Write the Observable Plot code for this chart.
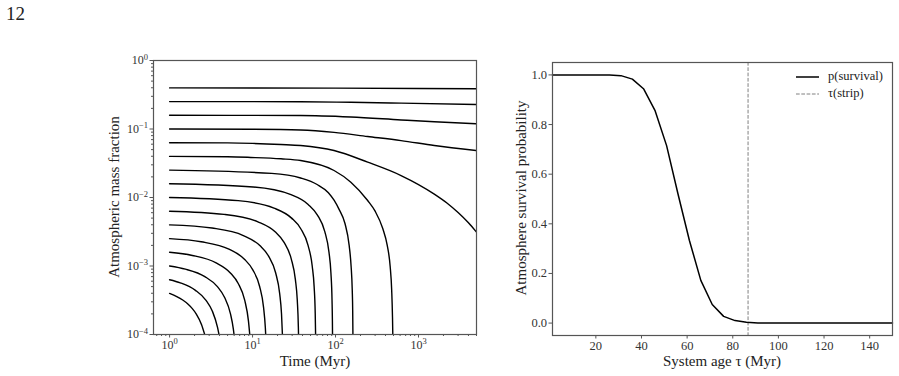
<!DOCTYPE html>
<html>
<head>
<meta charset="utf-8">
<script src="https://cdn.jsdelivr.net/npm/d3@7"></script>
<script src="https://cdn.jsdelivr.net/npm/@observablehq/plot@0.6"></script>
<style>
  body { margin: 0; background: #fff; }
  #root { position: relative; width: 899px; height: 376px; font-family: "Liberation Serif", serif; color: #222; overflow: hidden; }
  .lbl { position: absolute; white-space: nowrap; font-size: 15px; color: #222; }
  .abs { position: absolute; left: 0; top: 0; }
</style>
</head>
<body>
<div id="root">
  <div class="lbl" style="left:6px;top:3px;font-size:19px;">12</div>
  <div id="left" class="abs"></div>
  <div id="right" class="abs" style="left:480px;"></div>
  <div class="lbl" style="left:315px;top:361px;transform:translate(-50%,-50%);">Time (Myr)</div>
  <div class="lbl" style="left:114px;top:197px;transform:translate(-50%,-50%) rotate(-90deg);">Atmospheric mass fraction</div>
  <div class="lbl" style="left:722px;top:361px;transform:translate(-50%,-50%);">System age τ (Myr)</div>
  <div class="lbl" style="left:521px;top:198px;transform:translate(-50%,-50%) rotate(-90deg);">Atmosphere survival probability</div>
  <div id="legend" style="position:absolute;left:796px;top:68px;font-size:12.5px;color:#222;line-height:17px;">
    <div style="display:flex;align-items:center;"><svg width="24" height="17"><line x1="0" x2="23" y1="9" y2="9" stroke="black" stroke-width="1.5"/></svg><span style="margin-left:8px;">p(survival)</span></div>
    <div style="display:flex;align-items:center;"><svg width="24" height="17"><line x1="0" x2="23" y1="9" y2="9" stroke="#808080" stroke-width="1" stroke-dasharray="3.7,1.6"/></svg><span style="margin-left:8px;">τ(strip)</span></div>
  </div>
</div>
<script>
// ---- Left panel: atmospheric mass fraction tracks, [time (Myr), log10 mass fraction]
const c01 = [[1,-0.4],[100,-0.403],[1000,-0.408],[5000,-0.413]];
const c02 = [[1,-0.6],[38,-0.602],[153,-0.61],[616,-0.622],[5000,-0.642]];
const c03 = [[1,-0.8],[38,-0.803],[153,-0.825],[616,-0.868],[1550,-0.895],[5000,-0.924]];
const c04 = [[1,-1.0],[10,-1.004],[38,-1.015],[96,-1.05],[244,-1.11],[616,-1.17],[1550,-1.24],[5000,-1.314]];
const c05 = [[1,-1.2],[5,-1.203],[10,-1.21],[22,-1.226],[38,-1.241],[96,-1.314],[244,-1.484],[616,-1.679],[1550,-1.95],[2200,-2.08],[3000,-2.22],[4000,-2.37],[5000,-2.506]];
const c06 = [[1,-1.4],[5,-1.405],[9.5,-1.415],[22,-1.435],[38,-1.46],[96,-1.606],[153,-1.776],[244,-2.044],[300,-2.2],[370,-2.45],[420,-2.7],[455,-3.0],[475,-3.35],[486,-3.75],[490,-4]];
const c07 = [[1,-1.6],[17,-1.648],[38,-1.715],[60,-1.81],[82,-1.93],[96,-2.04],[110,-2.17],[130,-2.38],[146,-2.7],[154,-3.0],[159,-3.35],[161,-3.65],[162,-4]];
const c08 = [[1,-1.8],[10.16,-1.846],[28.47,-1.955],[46.79,-2.101],[60.53,-2.256],[74.26,-2.499],[83.42,-2.8],[88.0,-3.101],[90.75,-3.499],[91.67,-3.8],[92,-4]];
const c09 = [[1,-2.0],[6.71,-2.046],[18.12,-2.155],[29.54,-2.301],[38.10,-2.456],[46.66,-2.699],[52.36,-3.0],[55.22,-3.301],[56.93,-3.699],[57.5,-4]];
const c10 = [[1,-2.2],[4.54,-2.246],[11.61,-2.355],[18.69,-2.501],[23.99,-2.656],[29.30,-2.899],[32.83,-3.2],[34.60,-3.501],[35.66,-3.899],[35.8,-4]];
const c11 = [[1,-2.4],[3.25,-2.446],[7.74,-2.555],[12.23,-2.701],[15.60,-2.856],[18.97,-3.099],[21.21,-3.4],[22.34,-3.701],[22.9,-4]];
const c12 = [[1,-2.6],[2.40,-2.646],[5.19,-2.755],[7.98,-2.901],[10.07,-3.056],[12.17,-3.299],[13.56,-3.6],[14.26,-3.901],[14.4,-4]];
const c13 = [[1,-2.8],[1.88,-2.846],[3.64,-2.955],[5.40,-3.101],[6.72,-3.256],[8.04,-3.499],[8.92,-3.8],[9.25,-4]];
const c14 = [[1,-3.0],[1.55,-3.046],[2.66,-3.155],[3.77,-3.301],[4.59,-3.456],[5.42,-3.699],[5.87,-3.921],[5.98,-4]];
const c15 = [[1,-3.2],[1.35,-3.246],[2.05,-3.355],[2.75,-3.501],[3.27,-3.656],[3.79,-3.899],[3.94,-4]];
const c16 = [[1,-3.4],[1.22,-3.446],[1.44,-3.497],[1.66,-3.555],[1.88,-3.622],[2.10,-3.701],[2.43,-3.856],[2.65,-4]];
const tracks = [c01,c02,c03,c04,c05,c06,c07,c08,c09,c10,c11,c12,c13,c14,c15,c16];

const timeMajorTicks = [1, 10, 100, 1000];
const timeMinorTicks = [0.7,0.8,0.9,2,3,4,5,6,7,8,9,20,30,40,50,60,70,80,90,200,300,400,500,600,700,800,900,2000,3000,4000,5000];
const massMajorTicks = [1e-4, 1e-3, 1e-2, 1e-1, 1];
const massMinorTicks = [2e-4,3e-4,4e-4,5e-4,6e-4,7e-4,8e-4,9e-4,2e-3,3e-3,4e-3,5e-3,6e-3,7e-3,8e-3,9e-3,2e-2,3e-2,4e-2,5e-2,6e-2,7e-2,8e-2,9e-2,0.2,0.3,0.4,0.5,0.6,0.7,0.8,0.9];

// ---- Right panel: survival probability vs system age
const systemAge = [1,6,11,16,21,26,31,36,41,46,51,56,61,66,71,76,81,86,91,96,101,106,111,116,121,126,131,136,141,146,150];
const pSurvival = [1,1,1,1,1,1,0.997,0.983,0.943,0.855,0.715,0.52,0.333,0.172,0.075,0.027,0.01,0.003,0,0,0,0,0,0,0,0,0,0,0,0,0];
const stripTime = 86.7;
const ageTicks = [20,40,60,80,100,120,140];
const probTicks = [0,0.2,0.4,0.6,0.8,1.0];

const pow10 = d => "10^" + String(Math.round(Math.log10(d))).replace("-", "\u2212");

const rows = [];
tracks.forEach((tr, k) => tr.forEach(([t, lm]) => rows.push({k, t, m: Math.pow(10, lm)})));

const axisColor = "#555";
const baseStyle = {fontFamily: "Liberation Serif, serif", fontSize: "12px", background: "transparent", color: "#333", overflow: "visible"};

const leftPlot = Plot.plot({
  width: 480, height: 376,
  marginLeft: 153, marginRight: 4, marginTop: 60, marginBottom: 42,
  style: baseStyle,
  x: {type: "log", domain: [0.64, 5000]},
  y: {type: "log", domain: [1e-4, 1]},
  marks: [
    Plot.line(rows, {x: "t", y: "m", z: "k", stroke: "black", strokeWidth: 1.4, curve: "monotone-x", clip: true}),
    Plot.axisX({ticks: timeMinorTicks, tickSize: 2, tickFormat: () => "", label: null, stroke: axisColor}),
    Plot.axisX({ticks: timeMajorTicks, tickSize: 3.5, tickPadding: 2, tickFormat: pow10, label: null, stroke: axisColor, fontSize: 12}),
    Plot.axisY({ticks: massMinorTicks, tickSize: 2, tickFormat: () => "", label: null, stroke: axisColor}),
    Plot.axisY({ticks: massMajorTicks, tickSize: 3.5, tickPadding: 2, tickFormat: pow10, label: null, stroke: axisColor, fontSize: 12}),
    Plot.frame({stroke: axisColor, strokeWidth: 1.2})
  ]
});
// render "10^k" tick labels with a real superscript
d3.select(leftPlot).selectAll("text").each(function() {
  const s = this.textContent;
  const m = s.match(/^10\^(.+)$/);
  if (m) {
    this.textContent = "10";
    d3.select(this).append("tspan").attr("dy", "-0.55em").attr("font-size", "8.5px").text(m[1]);
  }
});
document.getElementById("left").appendChild(leftPlot);

const survRows = systemAge.map((a, i) => ({a, p: pSurvival[i]}));
const rightPlot = Plot.plot({
  width: 419, height: 376,
  marginLeft: 72, marginRight: 7, marginTop: 62, marginBottom: 41,
  style: baseStyle,
  x: {domain: [1, 150]},
  y: {domain: [-0.05, 1.05]},
  marks: [
    Plot.ruleX([stripTime], {stroke: "#808080", strokeWidth: 1, strokeDasharray: "3.7,1.6"}),
    Plot.line(survRows, {x: "a", y: "p", stroke: "black", strokeWidth: 1.5}),
    Plot.axisX({ticks: ageTicks, tickSize: 3.5, tickPadding: 2, label: null, stroke: axisColor, fontSize: 12.5}),
    Plot.axisY({ticks: probTicks, tickSize: 3.5, tickPadding: 2, tickFormat: d3.format(".1f"), label: null, stroke: axisColor, fontSize: 12.5}),
    Plot.frame({stroke: axisColor, strokeWidth: 1.2})
  ]
});
document.getElementById("right").appendChild(rightPlot);
</script>
</body>
</html>
